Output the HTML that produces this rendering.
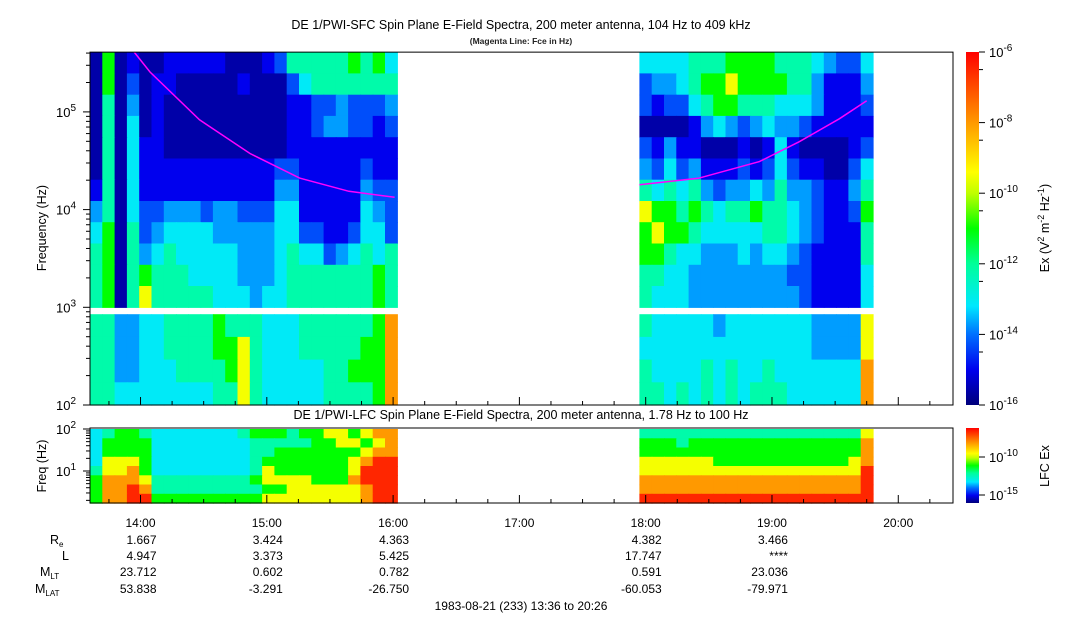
<!DOCTYPE html>
<html><head><meta charset="utf-8"><style>
body{margin:0;background:#fff;width:1083px;height:620px;overflow:hidden;font-family:"Liberation Sans",sans-serif;}
svg{display:block}
</style></head><body>
<svg id="chart" width="1083" height="620" xmlns="http://www.w3.org/2000/svg" font-family="Liberation Sans, sans-serif">
<defs>
<linearGradient id="jet" x1="0" y1="1" x2="0" y2="0">
<stop offset="0" stop-color="#00007a"/><stop offset="0.1" stop-color="#0000ee"/><stop offset="0.2" stop-color="#0070ff"/><stop offset="0.28" stop-color="#00e8ff"/><stop offset="0.4" stop-color="#00ff99"/><stop offset="0.5" stop-color="#00ff00"/><stop offset="0.6" stop-color="#c0ff00"/><stop offset="0.66" stop-color="#ffff00"/><stop offset="0.8" stop-color="#ff9900"/><stop offset="1" stop-color="#ff0000"/>
</linearGradient>
</defs>
<g id="heat"></g>
<g id="axes"></g>
</svg>
<script>
// ---- data ----
const seg1Start = 0, seg1End = 146;   // minutes since 13:36
const seg2Start = 261, seg2End = 372;
const sfcUpperSeg1 = [
"0601001111100012555556564","0602011000001000245555555","0503010000000000112232223","0504010000000000112332212",
"0504110000000000111111111","0504111111111112211111211","1504111111111113311111322","3504223332332224411111432",
"4605234444333334422112442","5605345444443334544234545","5605655544443334555555565","5605755555444344555555565"];
const sfcLowerSeg1 = ["5533445555655544455555568","5533445555667544455555668","5533444555567544444556668","5544444444557544444555568"];
const sfcUpperSeg2 = [
"4444555666655543224","2334566766665531113","2122456655544431112","0000134323433211111",
"2131100010141000012","3242311121242110024","5454532334353321135","7665654556554321126",
"6766544444554321115","6654433343443211115","5544333333332211114","5444333333333211114"];
const sfcLowerSeg2 = ["5444443444444433337","4444444444444433337","5444454544544444448","5545454545554444448"];
const lfcSeg1 = ["4566544444445666566776788","4666644444444555556677678","4666644444444556666666788","4777644444444566666667899",
"5778644444444576666667999","6888755555555677776668999","6889855555555566777777899","6889966666666677777777899"];
const lfcSeg2 = ["5555555555555555557","6665666666666666668","6666666666666666668","7777776666666666678",
"7777777777777777779","8888888888888888889","8888888888888888889","9999999999999999999"];
const fceTime1 = [21, 28.5, 52, 76, 99.6, 123, 144.7];
const fceFreq1 = [409000, 256000, 83000, 37500, 21000, 15400, 13400];
const fceTime2 = [261, 289, 318, 337, 356, 369];
const fceFreq2 = [18000, 20900, 31000, 49600, 85000, 130000];
const hourLabels = ["14:00","15:00","16:00","17:00","18:00","19:00","20:00"];
const ephemLabels = ["Re","L","MLT","MLAT"];
const ephemCols = [24, 84, 144, 264, 324];
const ephemVals = [["1.667","3.424","4.363","4.382","3.466"],["4.947","3.373","5.425","17.747","****"],["23.712","0.602","0.782","0.591","23.036"],["53.838","-3.291","-26.750","-60.053","-79.971"]];
const cbTicks = [-6,-8,-10,-12,-14,-16];
// ---- scales ----
const X0=90, X1=953, TMAX=410;
const xs = t => X0 + t/TMAX*(X1-X0);
const yF = f => 405 - (Math.log10(f)-2)*97.7;
const yL = f => 429 + (2-Math.log10(f))*42;
const levT=[0.04,0.1,0.17,0.23,0.29,0.38,0.5,0.65,0.8,0.95];
const stops=[[0,0,0,122],[0.1,0,0,238],[0.2,0,112,255],[0.28,0,232,255],[0.4,0,255,153],[0.5,0,255,0],[0.6,192,255,0],[0.66,255,255,0],[0.8,255,153,0],[1,255,0,0]];
function col(l){const t=levT[l];for(let i=1;i<stops.length;i++){if(t<=stops[i][0]){const a=stops[i-1],b=stops[i],u=(t-a[0])/(b[0]-a[0]);return `rgb(${[1,2,3].map(k=>Math.round(a[k]+(b[k]-a[k])*u)).join(',')})`;}}return 'red';}
const NS='http://www.w3.org/2000/svg';
const heat=document.getElementById('heat'), axes=document.getElementById('axes');
function el(tag,attrs,parent,text){const e=document.createElementNS(NS,tag);for(const k in attrs)e.setAttribute(k,attrs[k]);if(text!==undefined)e.textContent=text;parent.appendChild(e);return e;}
function grid(rows,t0,t1,yTop,yBot,name){
  const nr=rows.length, nc=rows[0].length, dt=(t1-t0)/nc, dy=(yBot-yTop)/nr;
  rows.forEach((r,i)=>{for(let j=0;j<nc;j++){
    const x=xs(t0+j*dt), w=xs(t0+(j+1)*dt)-x;
    const c=el('rect',{x:x.toFixed(1),y:(yTop+i*dy).toFixed(1),width:(w+0.6).toFixed(1),height:(dy+0.6).toFixed(1),fill:col(+r[j])},heat);
    
    
  }});
}
grid(sfcUpperSeg1,seg1Start,seg1End,yF(409000),yF(1000),'sfc-upper');
grid(sfcLowerSeg1,seg1Start,seg1End,yF(850),yF(100),'sfc-lower');
grid(sfcUpperSeg2,seg2Start,seg2End,yF(409000),yF(1000),'sfc-upper');
grid(sfcLowerSeg2,seg2Start,seg2End,yF(850),yF(100),'sfc-lower');
grid(lfcSeg1,seg1Start,seg1End,yL(100),yL(1.73),'lfc');
grid(lfcSeg2,seg2Start,seg2End,yL(100),yL(1.73),'lfc');
function fce(ts,fs){const p=el('polyline',{points:ts.map((t,i)=>xs(t).toFixed(1)+','+yF(fs[i]).toFixed(1)).join(' '),fill:'none',stroke:'#ff00ff','stroke-width':1.5},heat);
 }
fce(fceTime1,fceFreq1);fce(fceTime2,fceFreq2);
// frames
let r=el('rect',{x:X0,y:yF(409000),width:X1-X0,height:405-yF(409000),fill:'none',stroke:'#000'},axes);

r=el('rect',{x:X0,y:yL(100)-1,width:X1-X0,height:yL(1.73)-yL(100)+1,fill:'none',stroke:'#000'},axes);

// y ticks
for(let d=2;d<=5;d++){for(let m=1;m<10;m++){const f=m*Math.pow(10,d);if(f>409000)break;const y=yF(f);el('line',{x1:X0-(m==1?7:4),x2:X0,y1:y,y2:y,stroke:'#000'},axes);}
 const t=el('text',{x:X0-14,y:yF(Math.pow(10,d))+5,'text-anchor':'end','font-size':13},axes);t.innerHTML='10<tspan dy="-6" font-size="10">'+d+'</tspan>';
 }
for(let d=0;d<=1;d++){for(let m=1;m<10;m++){const f=m*Math.pow(10,d);if(f<1.73)continue;el('line',{x1:X0-(m==1?7:4),x2:X0,y1:yL(f),y2:yL(f),stroke:'#000'},axes);}}
el('line',{x1:X0-7,x2:X0,y1:yL(100),y2:yL(100),stroke:'#000'},axes);
el('text',{x:X0-14,y:yL(100)+5,'text-anchor':'end','font-size':13},axes).innerHTML='10<tspan dy="-6" font-size="10">2</tspan>';
el('text',{x:X0-14,y:yL(10)+5,'text-anchor':'end','font-size':13},axes).innerHTML='10<tspan dy="-6" font-size="10">1</tspan>';
// time ticks
for(let m=0;m<=TMAX;m+=1){const hm=(36+m)%60; if(hm%15)continue;const x=xs(m),big=hm==0;
 el('line',{x1:x,x2:x,y1:503,y2:503-(big?8:4),stroke:'#000'},axes);el('line',{x1:x,x2:x,y1:405,y2:405-(big?8:4),stroke:'#000'},axes);}
hourLabels.forEach((h,i)=>{const t=el('text',{x:xs(24+60*i),y:527,'text-anchor':'middle','font-size':12},axes,h);
 });
// ephemeris
const ly=[544,560,576,593];
const lab=['R<tspan dy="3" font-size="8">e</tspan>','L','M<tspan dy="3" font-size="8">LT</tspan>','M<tspan dy="3" font-size="8">LAT</tspan>'];
ephemLabels.forEach((n,i)=>{const t=el('text',{x:i==1?62:(i==0?50:(i==2?40:35)),y:ly[i],'font-size':12.5},axes);t.innerHTML=lab[i];
 
 ephemVals[i].forEach((v,j)=>{el('text',{x:xs(ephemCols[j])+16,y:ly[i],'text-anchor':'end','font-size':12},axes,v);});});
// colorbars
cbTicks.forEach(p=>{const y=405-(p+16)*35.3;el('line',{x1:979,x2:985,y1:y,y2:y,stroke:'#000'},axes);
 el('text',{x:989,y:y+5,'font-size':13},axes).innerHTML='10<tspan dy="-6" font-size="10">'+p+'</tspan>';
 if(p>-16){el('line',{x1:979,x2:983,y1:y+17.6,y2:y+17.6,stroke:'#000'},axes);}});
</script>
<svg style="position:absolute;left:0;top:0" width="1083" height="620" font-family="Liberation Sans, sans-serif">
<text x="521" y="29" text-anchor="middle" font-size="12.5">DE 1/PWI-SFC  Spin Plane E-Field Spectra, 200 meter antenna, 104 Hz to 409 kHz</text>
<text x="521" y="44" text-anchor="middle" font-size="8.5" font-weight="bold" fill="#222">(Magenta Line: Fce in Hz)</text>
<text x="521" y="419" text-anchor="middle" font-size="12.5">DE 1/PWI-LFC  Spin Plane E-Field Spectra, 200 meter antenna, 1.78 Hz to 100 Hz</text>
<text transform="translate(46,228) rotate(-90)" text-anchor="middle" font-size="12.5">Frequency (Hz)</text>
<text transform="translate(46,466) rotate(-90)" text-anchor="middle" font-size="12.5">Freq (Hz)</text>
<rect x="966" y="52" width="13" height="353" fill="url(#jet)"/>
<rect x="966" y="428" width="13" height="75" fill="url(#jet)"/>
<line x1="979" x2="985" y1="457" y2="457" stroke="#000"/><line x1="979" x2="985" y1="495" y2="495" stroke="#000"/>
<text x="989" y="462" font-size="13">10<tspan dy="-6" font-size="10">-10</tspan></text>
<text x="989" y="500" font-size="13">10<tspan dy="-6" font-size="10">-15</tspan></text>
<text transform="translate(1049,228) rotate(-90)" text-anchor="middle" font-size="12.5">Ex (V<tspan dy="-5" font-size="9">2</tspan><tspan dy="5"> m</tspan><tspan dy="-5" font-size="9">-2</tspan><tspan dy="5"> Hz</tspan><tspan dy="-5" font-size="9">-1</tspan><tspan dy="5">)</tspan></text>
<text transform="translate(1049,466) rotate(-90)" text-anchor="middle" font-size="12.5">LFC Ex</text>
<text x="521" y="610" text-anchor="middle" font-size="12">1983-08-21 (233) 13:36 to 20:26</text>
</svg>
</body></html>
